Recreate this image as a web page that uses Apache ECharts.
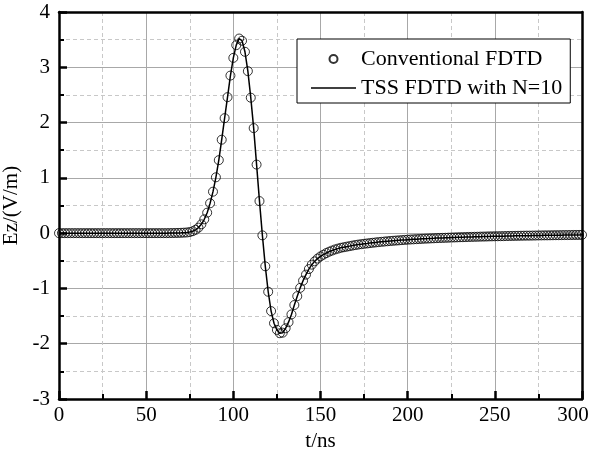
<html>
  <head>
    <meta charset="utf-8" />
    <script src="https://cdn.jsdelivr.net/npm/echarts@6/dist/echarts.min.js"></script>
    <style>
      body {
        margin: 0;
        background: #fff;
      }

      #main {
        width: 592px;
        height: 450px;
      }
    </style>
  </head>
  <body>
    <div id="main"></div>
    <script>
      // samples every 5/3 ns from 0 to 300 ns
      const sampleStep = 5 / 3;
      const ezValues = [
        0, 0, 0, 0, 0, 0, 0, 0, 0, 0,
        0, 0, 0, 0, 0, 0, 0, 0, 0, 0,
        0, 0, 0, 0, 0, 0, 0, 0, 0, 0,
        0, 0, 0, 0, 0, 0, 0, 0, 0.001, 0.002,
        0.003, 0.004, 0.006, 0.009, 0.012, 0.02, 0.035, 0.06, 0.10, 0.16,
        0.25, 0.37, 0.54, 0.75, 1.01, 1.32, 1.69, 2.08, 2.46, 2.85,
        3.17, 3.40, 3.52, 3.48, 3.28, 2.93, 2.45, 1.90, 1.24, 0.58,
        -0.04, -0.60, -1.06, -1.41, -1.63, -1.75, -1.81, -1.80, -1.72, -1.61,
        -1.47, -1.30, -1.14, -0.99, -0.86, -0.75, -0.65, -0.57, -0.51, -0.46,
        -0.42, -0.39, -0.36, -0.335, -0.315, -0.295, -0.28, -0.265, -0.255, -0.245,
        -0.235, -0.225, -0.215, -0.207, -0.20, -0.193, -0.187, -0.18, -0.174, -0.168,
        -0.162, -0.157, -0.152, -0.147, -0.142, -0.138, -0.134, -0.13, -0.126, -0.122,
        -0.118, -0.115, -0.112, -0.109, -0.106, -0.103, -0.1, -0.098, -0.095, -0.093,
        -0.09, -0.088, -0.086, -0.084, -0.082, -0.08, -0.078, -0.076, -0.074, -0.073,
        -0.071, -0.069, -0.068, -0.066, -0.065, -0.063, -0.062, -0.061, -0.059, -0.058,
        -0.057, -0.056, -0.055, -0.054, -0.052, -0.051, -0.05, -0.049, -0.048, -0.047,
        -0.046, -0.045, -0.045, -0.044, -0.043, -0.042, -0.041, -0.04, -0.04, -0.039,
        -0.038, -0.037, -0.037, -0.036, -0.035, -0.035, -0.034, -0.033, -0.033, -0.032,
        -0.031
      ];
      const seriesNames = ['Conventional FDTD', 'TSS FDTD with N=10'];

      const points = ezValues.map((v, i) => [i * sampleStep, v]);

      const font = 'Liberation Serif';
      const black = '#000';

      const frameAxis = {
        axisLine: { show: true, onZero: false, lineStyle: { color: black, width: 2.5 } },
        axisTick: { show: false },
        axisLabel: { show: false },
        splitLine: { show: false },
      };

      const chart = echarts.init(document.getElementById('main'), null, {
        renderer: 'canvas',
      });

      chart.setOption({
        animation: false,
        grid: {
          left: 59,
          right: 10,
          top: 12,
          bottom: 51,
          containLabel: false,
          outerBoundsMode: 'none',
        },
        legend: {
          left: 297,
          top: 39,
          orient: 'vertical',
          itemWidth: 45,
          itemHeight: 8,
          itemGap: 7,
          padding: [9, 8, 4, 14],
          backgroundColor: '#fff',
          borderColor: black,
          borderWidth: 1,
          borderRadius: 0,
          selectedMode: false,
          textStyle: {
            fontFamily: font,
            fontSize: 22,
            color: black,
            lineHeight: 20,
          },
          data: [
            { name: seriesNames[0] },
            { name: seriesNames[1], icon: 'path://M0,0H45V1.5H0Z' },
          ],
        },
        xAxis: [
          {
            type: 'value',
            min: 0,
            max: 300,
            interval: 50,
            name: 't/ns',
            nameLocation: 'middle',
            nameGap: 27,
            nameTextStyle: { fontFamily: font, fontSize: 21, color: black },
            axisLine: { onZero: false, lineStyle: { color: black, width: 2.5 } },
            axisTick: {
              inside: true,
              length: 8,
              lineStyle: { color: black, width: 2.5 },
            },
            minorTick: {
              show: true,
              splitNumber: 2,
              length: 5,
              lineStyle: { color: black, width: 2 },
            },
            axisLabel: {
              fontFamily: font,
              fontSize: 21,
              color: black,
              margin: 6,
              // keep the last label inside the page, as in the original
              formatter: (v) => (v === 300 ? '{edge|' + v + '}' : String(v)),
              rich: {
                edge: {
                  fontFamily: font,
                  fontSize: 21,
                  color: black,
                  padding: [0, 18, 0, 0],
                },
              },
            },
            splitLine: { lineStyle: { color: '#a8a8a8', width: 1 } },
            minorSplitLine: {
              show: true,
              lineStyle: { color: '#c8c8c8', width: 1, type: [4, 3] },
            },
          },
          Object.assign({ type: 'value', min: 0, max: 300, position: 'top' }, frameAxis),
        ],
        yAxis: [
          {
            type: 'value',
            min: -3,
            max: 4,
            interval: 1,
            name: 'Ez/(V/m)',
            nameLocation: 'middle',
            nameGap: 27,
            nameTextStyle: { fontFamily: font, fontSize: 21, color: black },
            axisLine: { onZero: false, lineStyle: { color: black, width: 2.5 } },
            axisTick: {
              inside: true,
              length: 8,
              lineStyle: { color: black, width: 2.5 },
            },
            minorTick: {
              show: true,
              splitNumber: 2,
              length: 5,
              lineStyle: { color: black, width: 2 },
            },
            axisLabel: {
              fontFamily: font,
              fontSize: 21,
              color: black,
              margin: 9,
            },
            splitLine: { lineStyle: { color: '#a8a8a8', width: 1 } },
            minorSplitLine: {
              show: true,
              lineStyle: { color: '#c8c8c8', width: 1, type: [4, 3] },
            },
          },
          Object.assign({ type: 'value', min: -3, max: 4, position: 'right' }, frameAxis),
        ],
        series: [
          {
            name: seriesNames[0],
            type: 'scatter',
            symbol: 'circle',
            symbolSize: 9,
            itemStyle: {
              color: 'transparent',
              borderColor: black,
              borderWidth: 1,
            },
            emphasis: { disabled: true },
            data: points,
            z: 3,
          },
          {
            name: seriesNames[1],
            type: 'line',
            showSymbol: false,
            symbol: 'none',
            lineStyle: { color: black, width: 1.5 },
            itemStyle: { color: black },
            emphasis: { disabled: true },
            data: points,
            z: 4,
          },
        ],
      });
    </script>
  </body>
</html>
